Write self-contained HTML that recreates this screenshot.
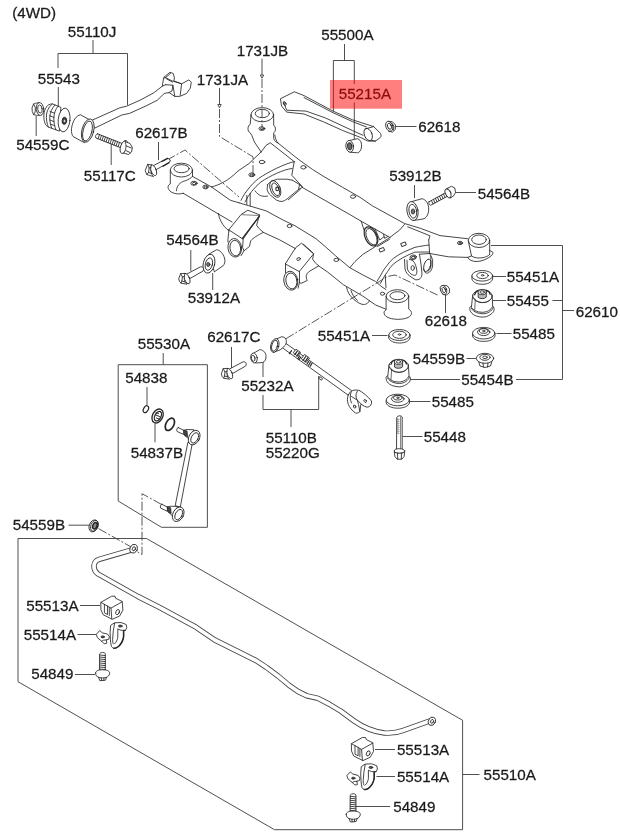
<!DOCTYPE html>
<html><head><meta charset="utf-8">
<style>
html,body{margin:0;padding:0;background:#fff;}
svg{display:block;}
text{font-family:"Liberation Sans",sans-serif;font-size:14.9px;fill:#1a1a1a;stroke:#1a1a1a;stroke-width:0.25px;}
.l{stroke:#3c3c3c;stroke-width:0.9;fill:none;}
.p{stroke:#262626;stroke-width:0.85;fill:#fff;stroke-linejoin:round;stroke-linecap:round;}
.n{stroke:#262626;stroke-width:0.85;fill:none;stroke-linejoin:round;stroke-linecap:round;}
.d{stroke:#444;stroke-width:0.9;fill:none;stroke-dasharray:9 2 2 2;}
</style></head><body>
<svg width="620" height="833" viewBox="0 0 620 833">
<rect width="620" height="833" fill="#fff"/>
<!--LINES-->
<g class="l" id="leaders">
<path d="M93 40V53.500M58 68V53.500H127.500V105"/>
<path d="M58.300 87V107"/>
<path d="M36.200 116V136"/>
<path d="M111.200 144V165"/>
<path d="M158.500 142V160"/>
<path d="M344.500 44V60.500M333.400 111.500V60.500H354.300V84M354.300 102.500V139.200"/>
<path d="M396 126.500H416.500"/>
<path d="M414.500 185V198"/>
<path d="M455 192.500H476"/>
<path d="M491 245.500H562.500V379.500H516M552.500 300.500H562.500M562.500 310.500H574"/>
<path d="M492.500 276.500H506M492.500 300.500H506M496.500 333.500H511.500"/>
<path d="M445.500 294V313"/>
<path d="M372 335.500H387.500"/>
<path d="M466.500 358.500H476"/>
<path d="M410 379.500H460"/>
<path d="M410 401.500H430.500"/>
<path d="M402.500 436.500H422.500"/>
<path d="M190.800 250V271"/>
<path d="M212.700 273V290"/>
<path d="M231.500 347V368.500"/>
<path d="M263 361V377M263 395V409.500H318.700V376M291 409.500V427"/>
<path d="M163.200 353V364.700M118.200 364.700H207.400V527.300H161.500L118.200 501V364.700"/>
<path d="M147 387V405"/>
<path d="M155 423.500V442.400"/>
<path d="M68.500 525.200H89"/>
<path d="M146.500 538.500H18V681.700L274.500 829.700H462.600V720.300Z"/>
<path d="M462.600 774.500H479.500"/>
<path d="M80 605.500H100M77.500 634.500H96.500M75 674.500H95"/>
<path d="M375 749.500H395M376.500 776.500H395M356 806.500H390"/>
<path d="M262 58.700V75M219.500 88V104.500"/>
<path d="M260.300 75H263.700L262 78.200ZM217.800 104.500H221.200L219.500 107.800Z"/>
</g>
<g class="d">
<path d="M262 79V127"/>
<path d="M219.500 109V136.500L253 156.800V174"/>
<path d="M167 160L185 150L239 197"/>
<path d="M286 338.700L387.500 276.500L395 275L437.500 295"/>
<path d="M161.300 504.300L142 493.700V554.500L137 551.500"/>
<path d="M98.700 528.700L131.200 547"/>
</g>
<!-- trailing arm 55110J -->
<g class="p">
<!-- arm body -->
<path d="M91.500 120.500 L119.800 107.800 L126.600 106.200 L140 100.200 L153.500 93 L162.300 86.200 L163.700 77.500 L170 72.200 L173.400 73.600 L174.400 78 L173.900 80.900 L181.600 83.800 L188.900 79.900 L191.300 82.300 L190.300 88.100 L186.500 93.500 L179.700 96.400 L174.800 96.400 L169 92.500 L164.200 93.500 L157.400 100.200 L145.800 106 L129.500 113.400 L121.800 115 L95 128 Z"/>
<path class="n" d="M164.200 77 L172 80.900 L181.600 83.800 L180.200 95.400 M165.700 84.700 L172.900 85.200 L172 91 L169 92.500 M172.900 85.200 L174.800 96.400 M164.900 78.200 L170.600 73.300 M162.300 86.200 L165.700 84.700 M166.500 78.800 L172.500 82.200"/>
<!-- sleeve -->
<path d="M91.800 121.100 L80.500 114.800 C76.500 115.300 72.500 120.500 71.500 128.700 C71.200 132.500 72 135.300 73.200 136.600 L84 142.500 Z"/>
<ellipse cx="87.800" cy="130.600" rx="5.900" ry="11.900" transform="rotate(14 87.800 130.600)"/>
<ellipse class="n" cx="87.500" cy="131" rx="4.400" ry="10.200" transform="rotate(14 87.500 131)"/>
</g>
<!-- bushing 55543 -->
<g class="p">
<path d="M60.500 107.200 L52.300 103.900 C49.500 104 47.500 105.200 46.600 106.700 C44.800 109.500 43.800 112.500 43.800 115.200 C43.800 118.500 44.200 121 44.900 123.100 C45.600 125 46.800 126.300 48.300 127 L59 131 Z"/>
<path class="n" d="M52.300 103.900 C49.500 106 47.500 109.500 46.500 114 C46 118.500 46.800 123.500 48.300 127 M55 105 C52 108 50.300 112 49.800 117 C49.700 121.500 50.500 125.500 51.800 128.200 M58 106.200 C55.500 109 54.200 113 53.800 118 C53.800 122.500 54.600 126.500 56 129.800 M50 111.500 L54.500 113.200 M49.700 115.800 L54 117.400 M49.700 120 L54 121.600 M50.300 124 L54.600 125.600"/>
<ellipse cx="64.100" cy="120" rx="5.900" ry="11.900" transform="rotate(6 64.100 120)"/>
<ellipse cx="64.400" cy="120.800" rx="2.300" ry="3.600" transform="rotate(6 64.400 120.800)" style="fill:#444"/>
<ellipse cx="64.500" cy="121" rx="0.800" ry="1.300" style="fill:#ddd;stroke:none"/>
</g>
<!-- nut 54559C -->
<g class="p">
<path d="M39 102.600 L35.500 103.300 L33.600 104 L32 107.900 L32.300 111.500 L33.600 114.600 L36.500 115.300 L39.500 115.300 Z"/>
<path class="n" d="M33.600 104 L35.300 107.500 L35.200 112 L33.600 114.600"/>
<ellipse cx="40" cy="109" rx="3.700" ry="6.400" transform="rotate(-6 40 109)"/>
<ellipse class="n" cx="39.900" cy="109" rx="2.200" ry="4" transform="rotate(-6 39.900 109)"/>
</g>
<!-- bolt 55117C -->
<g class="p" transform="translate(0 1)">
<path d="M97.500 132.800 L123 142.800 L121.500 147 L96 137 C95 135.500 95.500 133.500 97.500 132.800 Z"/>
<path class="n" d="M99.500 133.600 L98 137.800 M101.500 134.400 L100 138.600 M103.500 135.200 L102 139.400 M105.500 136 L104 140.200 M107.500 136.800 L106 141 M109.500 137.600 L108 141.800 M111.500 138.400 L110 142.600 M113.500 139.200 L112 143.400 M115.500 140 L114 144.200 M117.500 140.800 L116 145 M119.500 141.600 L118 145.800"/>
<ellipse cx="124" cy="146" rx="3.400" ry="6.800" transform="rotate(20 124 146)"/>
<path d="M125 140.500 L130 142.500 L132.400 146.500 L131.500 151 L128.500 153.500 L123.500 152 C126 150 127 144 125 140.500 Z"/>
<path class="n" d="M126.500 145 L131.500 147 M125.800 149.500 L130 151.500"/>
</g>
<!-- bolt 62617B -->
<g class="p">
<path d="M152.900 165.900 L167.700 158.100 L170.300 160 L169.700 162 L156.100 169.700 Z"/>
<path class="n" d="M161.800 161.500 L167.500 158.600 M163 166.200 L169 162.800" style="stroke-width:1.300;stroke-dasharray:1.2 0.8"/>
<ellipse cx="153.500" cy="170.200" rx="2.600" ry="5.700" transform="rotate(-22 153.500 170.200)"/>
<path d="M151.300 165 L147.700 164.300 L145.200 170.700 L146.800 174.500 L149.700 175.500 L153.500 176.500 C150.800 174.500 149.800 168.500 151.300 165 Z"/>
<path class="n" d="M147.700 164.300 L149.200 168 L148.500 172.500 L146.800 174.500 M149.200 168 L151 167.300 M148.500 172.500 L151.300 173.300"/>
</g>
<!-- SUBFRAME -->
<g class="n">
<!-- boss A front-left -->
<ellipse cx="181.400" cy="170.100" rx="11.100" ry="6.900"/>
<ellipse cx="181.600" cy="168.700" rx="7.600" ry="4"/>
<path d="M170.300 170.500 L170.300 184 C167.500 185 166.800 189 171.300 192.100 C175 194.300 180 194.300 183.300 193.300"/>
<path d="M192.500 170.500 L192.500 176.400"/>
<path d="M176.400 190.800 C176.500 186 180 182 185.200 180.800 C188 180 191 178 192.500 176.400"/>
<!-- front rail left -->
<path d="M192.500 176.400 L211.600 187"/>
<path d="M211.600 187 C220 184.500 228 181 238 171 L249 163.500 L261 152"/>
<path d="M211.600 187 L230.400 200.300 L239 202.800"/>
<path d="M183.300 193.300 L232 222"/>
<ellipse cx="194" cy="183.300" rx="3.200" ry="2"/>
<ellipse cx="194.200" cy="183.500" rx="1.800" ry="1.100"/>
<ellipse cx="205.500" cy="187" rx="2.700" ry="1.900"/>
<ellipse cx="205.600" cy="187.100" rx="1.400" ry="1"/>
<!-- boss B rear-left -->
<ellipse cx="262.300" cy="114.700" rx="11.300" ry="7.100"/>
<ellipse cx="262.300" cy="113.500" rx="7.100" ry="4.200"/>
<path d="M251 114.700 L250.200 124.400 C247.500 125.500 247 131.500 250.200 132.800 L251.800 135.300 L254.400 142 L261.100 152"/>
<path d="M273.600 114.700 L273.700 125.200 C276 127 276 131.500 273.700 132.800 L273.700 138.600 C274.500 141 276 142.500 278 143"/>
<path d="M261.100 152 L266.100 145.300 L270.300 142.800 L294.200 161.600"/>
<ellipse cx="261.900" cy="128.600" rx="3" ry="1.800"/>
<ellipse cx="262" cy="128.800" rx="1.600" ry="0.900"/>
<ellipse cx="262" cy="162" rx="2.800" ry="1.700"/>
<ellipse cx="251.800" cy="174.800" rx="3" ry="1.900"/>
<ellipse cx="251.900" cy="175" rx="1.600" ry="1"/>
<!-- rear rail -->
<path d="M274.800 135 C275.500 139 276.500 141.500 278 143 L294.200 156 L300 160.500 L312.600 169.500 L324.200 176.800 L342.600 187.300 L360 197.300 L372.300 205.800 L404.500 223.500 L420.600 228.400 L440 235.600 L467.500 238.700"/>
<path d="M302.300 187.400 L350.600 215 L361 221.100"/>
<ellipse cx="303.400" cy="167.300" rx="2.600" ry="1.700"/>
<ellipse cx="353" cy="196.600" rx="2.600" ry="1.700"/>
<!-- left side member arcs -->
<path d="M294.200 161.600 C285 163.500 268 172 258.600 178.500 C251 184.500 244.500 193 241 200.300"/>
<path d="M292 168.500 C283 169.500 270 176 261 181.900 C254 187.500 248.500 195 245 202"/>
<path d="M294.200 161.600 L291.800 175.300 L302.300 186.600"/>
<path d="M246.800 195.300 L246.800 204.500 M250.200 193.500 L250.200 205.800"/>
<!-- bushing under left side member -->
<path d="M267.600 184.500 L271.500 181.100 L277.300 179.200 L287 179.200 L292.300 180.200"/>
<path d="M267.600 184.500 L267.100 189.400 C267.800 192 269 194 270.500 195.200 L276.300 200 C278 201 280 201.500 282.100 201.500 C284 201 285.500 200.200 287 199 L298.600 189.400 L302.400 187.400 L299.500 184.500 L292.300 180.200"/>
<path d="M288.300 199.800 L300.300 189.300 M298.600 189.400 L299.500 184.500"/>
<ellipse cx="275.300" cy="188.900" rx="4.900" ry="8.800" transform="rotate(-22 275.300 188.900)"/>
<ellipse cx="275.700" cy="189.300" rx="3.300" ry="6.700" transform="rotate(-22 275.700 189.300)"/>
<ellipse cx="277.200" cy="188.900" rx="1.400" ry="1.800" style="stroke-width:1.100"/>
<path d="M255 190.800 C257 193.500 259 195 260.800 195.700 C263 196.500 265.500 196.500 267.600 196.100"/>
<!-- front rail mid (P and Q) -->
<path d="M239 202.800 L248.400 205.600 L266 210.800 L283 220 L295 225.800 L316 238.700 L325.500 246.800 L335.300 255.600 L349.800 267.700 L362 274.500 L375.600 281.500 L382 287 L386 289.500"/>
<path d="M263.400 232.400 L279.500 239.800 L295.600 248.700"/>
<ellipse cx="289.500" cy="226" rx="2.400" ry="1.600"/>
<ellipse cx="336.300" cy="259.900" rx="2.400" ry="1.600"/>
<!-- bracket 1 -->
<path d="M229 229.500 L241.100 214.500 L247.900 210.200 L260 215 L243.200 238.800 Z"/>
<path d="M242 214.700 L258.500 215.500" style="stroke-width:0.600"/>
<path d="M259.200 216.500 L242.500 238.300" style="stroke-width:1.300"/>
<path d="M229 229.500 L227.900 239.800 L228 242"/>
<ellipse cx="234.800" cy="247.800" rx="6.800" ry="9.300" transform="rotate(-8 234.800 247.800)"/>
<ellipse cx="235.300" cy="248.100" rx="5.300" ry="7.800" transform="rotate(-8 235.300 248.100)"/>
<path d="M259.400 215.600 L256.600 225.200 L258.600 228.100 L263.400 232.400 C258 235 253 238 250.800 240.700 L249.400 246.500 L244 250.800 L242.600 247.400 L243.200 238.800 M244 250.800 L241.100 255.600"/>
<path d="M218.400 213.400 C219 218 222 226 229 230.800"/>
<!-- bracket 2 -->
<path d="M285.500 263.600 L295.700 247.600 L301.500 243.200 L313.600 253.900 L299.500 271.300 Z"/>
<path d="M303.400 244.200 L313 252.900"/>
<path d="M285.500 263.600 L285.500 272.800"/>
<ellipse cx="290.800" cy="280.700" rx="7" ry="9.500" transform="rotate(-10 290.800 280.700)"/>
<ellipse cx="291.400" cy="280.900" rx="5.500" ry="8" transform="rotate(-10 291.400 280.900)"/>
<path d="M299.500 271.300 L299.500 282.400 L301 283.400 L307.300 280.500 C306.500 279 306 277.500 306.300 275.700 C306.800 274 307.500 272.800 308.700 271.800 L318.400 266 M313.600 253.900 L312.600 259.200 L315.500 263.100 L318.400 265.500 M299.500 282.400 L298 288.200"/>
<ellipse cx="298.600" cy="259" rx="1.900" ry="1.300" transform="rotate(-20 298.600 259)"/>
<!-- front rail right -->
<path d="M318.400 265.700 L327.300 271.800 L343.400 284.700 L362.700 296 L375.600 305 L385.500 309"/>
<path d="M346.600 287.500 C347.500 292 349.500 295 351.500 297 C354.500 300.500 358 303 362 304.300 C365.500 305 368.500 303.500 369.500 300.500"/>
<path d="M351 290.500 C352 294 354 297.500 357.500 300.500"/>
<ellipse cx="382.500" cy="293.700" rx="2.200" ry="1.500"/>
<!-- right side member -->
<path d="M404.500 224.400 L399.700 230 L388.400 238.500 L375.500 246.500 L362.700 254.500 L355 261.500 L349.800 267.700"/>
<path d="M429 245 C424 245.700 420 246.300 415 247.300 L403.700 252.100 C400 254 396.500 256 393.200 258.500 C390.700 260.700 388.600 263 386.800 265.800 C384.500 268.500 382.500 271.700 381.100 274.700 L377.100 281.100"/>
<path d="M429.500 252 L415 252.100 C411 253.500 407 255.500 402.900 257.700 C399.500 259.700 396 261.800 393.200 264.200 C391 266.500 389 269 387.600 271.500 L384.400 276.300 L380.300 283.500"/>
<path d="M385.200 275.500 L386 287.600"/>
<path d="M428.700 240 L429.700 253.500"/>
<!-- hanging bracket -->
<path d="M404.500 259.400 L405 269 C406 272.500 407.500 274.500 409.400 275.800 L415.200 279.700 C417.500 280 419.200 279.500 420 278.700 C421.500 277 422 275.500 422 273.900 L421 264.200 L419.500 254.500"/>
<path d="M407 260.300 L407.400 269 C408.500 272 410.500 274 412.300 274.800 C414 275.500 415.500 275.500 416.100 274.800 C417 273 417 271 416.600 269 C416 266 415.200 264 414.200 262.300 C413 260.500 411 259.500 409.400 259.400"/>
<ellipse cx="412.700" cy="268" rx="1.700" ry="2.400"/>
<ellipse cx="413.200" cy="257.400" rx="3.300" ry="2.300" transform="rotate(-15 413.200 257.400)"/>
<ellipse cx="413.300" cy="257.500" rx="1.900" ry="1.200" transform="rotate(-15 413.300 257.500)"/>
<path d="M429.700 253.500 L432.600 259.400 L432.600 266.100 C432 269 431 271 429.700 272 C428.500 273 427 273.300 425.800 273 C424.500 272 423.800 270.500 423.400 269"/>
<ellipse cx="427.300" cy="265.300" rx="3.200" ry="6.400" transform="rotate(18 427.300 265.300)"/>
<path d="M430.800 256 L431 266 C430.500 268.500 429.500 270.500 428 271.300"/>

<path d="M407.700 226.800 L430 235.800 L428.700 240"/>
<rect x="401.500" y="242.600" width="4.400" height="3.200" transform="rotate(-20 403.700 244.200)"/>
<rect x="379.800" y="248.100" width="4.400" height="3.200" transform="rotate(-20 382 249.700)"/>
<ellipse cx="460" cy="243" rx="2.600" ry="1.700"/>
<ellipse cx="460.100" cy="243.200" rx="1.300" ry="0.800"/>
<!-- bushing mount under rear rail -->
<path d="M361.300 221.500 L364.100 230.300 M361 221.100 L390.300 237.700"/>
<ellipse cx="371" cy="236.400" rx="5.900" ry="10.200" transform="rotate(-25 371 236.400)" style="stroke-width:1.200"/>
<ellipse cx="371.500" cy="236.700" rx="4.700" ry="8.800" transform="rotate(-25 371.500 236.700)"/>
<path d="M375 228.700 L379.800 240 L383.900 236.800 M383.500 234.400 L384.700 238.400 L387.900 236.400 M377.500 246.500 L389.500 239.300"/>
<!-- rear rail to boss D lower edge -->
<path d="M419.500 254.200 L429.800 253.500 L448.400 256.800 L467.700 257.400"/>
<!-- boss D -->
<ellipse cx="479" cy="240.400" rx="10.700" ry="7.100"/>
<ellipse cx="479" cy="239.700" rx="7.300" ry="4.700"/>
<path d="M468.300 240.800 L471.500 256 L467.700 257.300 C469 260 472 261.300 476 261.500 C481 261.500 487 259.500 491.900 255.200 C493 254 493.100 252.600 492.500 251.900 L489.700 250.500 M489.700 240.800 L489.700 254.500"/>
<path d="M471.500 256 C474 258 478.500 258.300 482 257.800 C485.500 257.300 488.500 256 489.700 254.500"/>
<!-- boss C -->
<ellipse cx="397.400" cy="296.200" rx="11.300" ry="6.500"/>
<ellipse cx="397.500" cy="295.700" rx="7.500" ry="4"/>
<path d="M386.100 296.200 L386.100 310 C383 311 383.500 315 387 317 C392 320 403 320 408 317.500 C412 315.500 413 312 408.700 309 L408.700 296.200"/>
</g>
<!-- upper arm 55215A -->
<g class="n">
<path d="M280.800 98.500 L294.400 91.800 L304 95.600 L333 111.100 L352.400 119.800 L373.700 126.600 L380.500 133.400 C381.500 135.500 381 137 380.500 137.300 L375.600 141.100 L367.900 141.100 L360.200 137.300 L342.700 130.500 L323.400 121.800 L304 114 L286.600 112.100 L281.800 106.300 Z"/>
<path d="M283.700 102 L286.600 110.200 L306 111.100 L325.300 117.900 L352.400 130.500 L363 135.300"/>
<path d="M304 97.600 L333 112.700 L352.400 121.600 L366.500 127"/>
<ellipse cx="284.700" cy="103.600" rx="1.200" ry="2" transform="rotate(-25 284.700 103.600)"/>
<ellipse cx="368.200" cy="134.500" rx="3.800" ry="6.400" transform="rotate(-22 368.200 134.500)"/>
<path d="M365 129 L373.700 126.600 M371 140.300 L375.600 141.100"/>
</g>
<!-- small bushing under arm -->
<g class="p">
<path d="M349.500 140.500 L357.500 138.700 C360.500 139.500 362 143 361.500 147 C361 150.500 359.500 152.500 357.500 152.800 L350 152.200 Z"/>
<ellipse cx="349.700" cy="146.300" rx="3.800" ry="5.900" transform="rotate(-8 349.700 146.300)"/>
<ellipse cx="349.700" cy="146.300" rx="2.300" ry="3.700" transform="rotate(-8 349.700 146.300)" style="fill:#666"/>
</g>
<!-- nut 62618 (top) -->
<g class="p">
<path d="M388.500 121.300 L392.500 121.800 L395.500 125 L395.300 129.500 L392.500 132 L389 131.500 Z"/>
<ellipse cx="389.300" cy="126.300" rx="3.400" ry="5.200" transform="rotate(-20 389.300 126.300)"/>
<ellipse class="n" cx="389.500" cy="126.300" rx="1.900" ry="3.100" transform="rotate(-20 389.500 126.300)"/>
<path class="n" d="M391.500 123 L394 126 L393.500 130"/>
</g>
<!-- nut 62618 (second) -->
<g class="p">
<path d="M443.500 285.300 L447.300 285.800 L449.500 289 L449.300 293 L446.500 295 L443.500 294.600 Z"/>
<ellipse cx="443.600" cy="290" rx="3" ry="4.700" transform="rotate(-20 443.600 290)"/>
<ellipse class="n" cx="443.800" cy="290" rx="1.600" ry="2.700" transform="rotate(-20 443.800 290)"/>
</g>
<!-- bushing 53912B -->
<g class="p">
<path d="M412 201.500 L422 198.700 C426 199.500 429 204 428.700 210 C428.300 215 426 218.500 423 219 L413.500 220.500 Z"/>
<ellipse cx="412.500" cy="211" rx="5.500" ry="9.600" transform="rotate(-10 412.500 211)"/>
<ellipse class="n" cx="412.800" cy="211.200" rx="3.800" ry="7" transform="rotate(-10 412.800 211.200)"/>
<ellipse cx="413" cy="211.500" rx="1.700" ry="2.600" style="fill:#777"/>
</g>
<!-- bolt 54564B right -->
<g class="p" transform="translate(0 -1)">
<path d="M429 202.800 L447 193 L448.700 196.600 L430.500 206.300 C429 205.800 428.500 204.300 429 202.800 Z"/>
<path class="n" d="M431.500 201.600 L433 205 M433.500 200.500 L435 203.900 M435.500 199.400 L437 202.800 M437.500 198.300 L439 201.700 M439.500 197.200 L441 200.600 M441.500 196.100 L443 199.500 M443.500 195 L445 198.400 M445.500 193.900 L447 197.300"/>
<ellipse cx="448.300" cy="194.500" rx="2.600" ry="5" transform="rotate(-28 448.300 194.500)"/>
<path d="M447 189.500 L451.500 187.300 L454.800 189 L455.500 193.500 L453.500 197 L450 199 C452 196 451.500 191 447 189.500 Z"/>
</g>
<!-- bushing 53912A -->
<g class="p">
<path d="M208.900 254.200 L216.600 249.700 C220 250 223 253.500 224.500 258 C225.500 261.500 224.500 264.500 223 265.800 L214.700 271.600 Z"/>
<ellipse cx="209" cy="263.700" rx="5.700" ry="9.600" transform="rotate(14 209 263.700)"/>
<ellipse class="n" cx="208.900" cy="264.100" rx="3.500" ry="6.300" transform="rotate(14 208.900 264.100)"/>
<ellipse cx="208.300" cy="264.500" rx="1.600" ry="2" style="fill:#777"/>
</g>
<!-- bolt 54564B left -->
<g class="p" transform="translate(-42.600 -95)">
<path d="M229.500 369 L243.100 361.800 C244.800 361.500 246 362.500 246.200 363.700 C246.400 364.800 246.100 365.600 245.500 366.100 L231.900 373.900 Z"/>
<ellipse cx="229.600" cy="373.600" rx="2.500" ry="5.500" transform="rotate(-22 229.600 373.600)"/>
<path d="M227.600 368.400 L223.200 368.600 L221.300 373.900 L222.300 376.800 L223.700 378.200 L229.500 379.200 C226.800 377.500 226 371.800 227.600 368.400 Z"/>
<path class="n" d="M223.200 368.600 L225 372 L224.500 376 L223.700 378.200 M225 372 L227 371.200 M224.500 376 L227.300 376.800"/>
</g>
<!-- washer 55451A right -->
<g class="p">
<path d="M471.900 276 L471.900 279 C473 282.500 477 284.300 482.300 284.300 C487.500 284.300 491.500 282.500 492.600 279 L492.600 276 Z"/>
<ellipse cx="482.300" cy="275.800" rx="10.400" ry="5.300"/>
<ellipse class="n" cx="482.500" cy="275.500" rx="5.800" ry="3.100"/>
<ellipse class="n" cx="482.600" cy="275.300" rx="1.200" ry="0.700"/>
</g>
<use href="#bush54" x="83.700" y="-69.700"/>
<!-- washer 55485 right -->
<g class="p">
<path d="M472.500 333.500 L472.500 336 C473.500 339.500 478 341.400 483.700 341.400 C489.500 341.400 494 339.500 495 336 L495 333.500 Z"/>
<ellipse cx="483.700" cy="333.200" rx="11.200" ry="5.800"/>
<ellipse class="n" cx="483.700" cy="332" rx="6.200" ry="3.600"/>
<ellipse class="n" cx="483.700" cy="331" rx="4.300" ry="2.300"/>
<ellipse class="n" cx="483.700" cy="331" rx="1.200" ry="0.700"/>
</g>
<!-- washer 55451A left -->
<g class="p">
<path d="M388.700 335.300 L388.700 338 C390 341.200 394 343 399.500 343 C405 343 409 341.200 410 338 L410 335.300 Z"/>
<ellipse cx="399.400" cy="335" rx="10.600" ry="5.500"/>
<ellipse class="n" cx="399.500" cy="334.800" rx="6.800" ry="3.600"/>
<ellipse class="n" cx="399.500" cy="334.500" rx="1.300" ry="0.700"/>
</g>
<!-- nut 54559B right -->
<g class="p">
<path d="M478.500 361 L480 366 L485 367.500 L490.500 366 L492 361 Z"/>
<ellipse cx="485" cy="358.300" rx="8.700" ry="5"/>
<ellipse class="n" cx="485" cy="357.300" rx="5.200" ry="3"/>
<ellipse class="n" cx="485" cy="357.300" rx="2.300" ry="1.300"/>
<path class="n" d="M483 363 L483.500 367 M488 363 L487.500 367"/>
</g>
<!-- bushing 55454B -->
<g id="bush54" class="p">
<path d="M387.700 375.800 C386 376.300 385.800 377.500 386.100 378.500 C386.300 380 386.600 381 387.100 381.600 C388.500 383.800 390.500 385 392.900 385.800 C395 386.500 397 386.800 399.400 386.800 C402 386.700 404 386 405.800 384.800 C408 383.500 409.500 382.200 410 381 C410.500 379.800 410.600 378.600 410.300 377.700 C410 376.800 409.500 376.200 409 375.800 Z"/>
<path class="n" d="M387.500 378 C389 380.200 391 381.600 392.900 382.300 C395 383.100 397 383.500 399.400 383.500 C402 383.400 404 382.700 405.800 381.600 C407.500 380.500 408.800 379 409.300 377.500"/>
<path d="M389 364.800 L387.700 377.100 C389.500 380 393.500 382 398.500 382 C403.500 382 407.500 379.500 409 375.800 L408.400 364.800 Z"/>
<ellipse cx="398.700" cy="365.800" rx="9.700" ry="6.500"/>
<path class="n" d="M391.600 369.400 L391 379.500 M390 367.500 C392 370.500 395 372.300 399.400 372.300 C403 372.300 406 370.800 407.500 368.500" style="stroke-width:0.700"/>
<path d="M394.500 362.300 L394.500 367 C396 368.800 401 368.800 402.600 366.800 L402.600 361.600 Z" style="fill:#bbb"/>
<ellipse cx="398.500" cy="361.900" rx="4.100" ry="2.500" style="fill:#fff"/>
<ellipse class="n" cx="398.500" cy="361.800" rx="2.200" ry="1.300"/>
<path class="n" d="M391 364.500 C391.500 362 393 360.800 394.500 360.300 M402.600 360 C404.500 360.500 406 361.800 406.500 364" style="stroke-width:1.200"/>
</g>
<!-- washer 55485 lower -->
<g class="p">
<path d="M386.200 400.500 L386.200 403 C387.500 406.300 392 408.200 397.800 408.200 C403.500 408.200 408.300 406.300 409.500 403 L409.500 400.500 Z"/>
<ellipse cx="397.800" cy="400" rx="11.600" ry="5.800"/>
<ellipse class="n" cx="397.800" cy="398.800" rx="6.300" ry="3.500"/>
<ellipse class="n" cx="397.800" cy="397.800" rx="4.300" ry="2.200"/>
<ellipse class="n" cx="397.800" cy="397.800" rx="1.200" ry="0.700"/>
</g>
<!-- bolt 55448 -->
<g class="p">
<path d="M396.900 417 C397.500 415.300 401.600 415.300 402.200 417 L402.200 450 L396.900 450 Z"/>
<path class="n" d="M396.900 419 L399 419.300 M396.900 421 L399 421.300 M396.900 423 L399 423.300 M396.900 425 L399 425.300 M396.900 427 L399 427.300 M396.900 429 L399 429.300 M396.900 431 L399 431.300 M396.900 433 L399 433.300 M400.600 417 L400.600 449.500" style="stroke-width:0.600"/>
<ellipse cx="399.500" cy="451" rx="5.300" ry="2.300"/>
<path d="M394.400 452.200 L394.900 456.500 L397.200 459.200 L401.800 459.200 L404.100 456.500 L404.600 452.200 C402 453.700 397 453.700 394.400 452.200 Z"/>
<path class="n" d="M397.500 453.400 L397.700 459 M401.500 453.400 L401.300 459"/>
</g>
<!-- lower arm 55110B -->
<g class="p">
<path d="M285.600 343.200 L351.600 390.700 L348.400 395.300 L282.400 347.800 Z"/>
<!-- sleeve -->
<path d="M276.500 338.900 L281.900 336.700 C284.500 337 286.300 338.500 286.300 340.600 C286.500 342.500 286 344 285.400 345.100 L282.700 347.700 L280.100 349.900 L273.900 352.200 Z"/>
<ellipse cx="274.800" cy="345.500" rx="4" ry="7" transform="rotate(15 274.800 345.500)"/>
<ellipse class="n" cx="274.600" cy="345.700" rx="2.800" ry="5.600" transform="rotate(15 274.600 345.700)"/>
<!-- adjuster -->
<path d="M293.500 352.500 L296 349.200 L300.500 352.300 L298 356 Z M301.500 358.500 L304.500 354.500 L309.500 358 L306.500 362 Z" style="fill:#fff"/>
<path class="n" d="M291.600 350.600 L289.400 353.700 M294.800 354.700 L297.300 351.200 M296.800 356 L299.200 352.500 M299.500 356 L297.800 358.700 M300.800 357 L299 359.700 M303 360.500 L305.800 356.500 M305 361.800 L307.800 357.800 M308.800 361.200 L307 364 M310.400 362.300 L308.600 365.200 M312 363.400 L310.200 366.300" style="stroke-width:1.200"/>
<path class="n" d="M320 376.800 L322.600 378.600 L321.500 380.200 L318.900 378.400 Z"/>
<!-- clevis -->
<path d="M348.400 394.800 C349.500 392 352 390.300 355 390 L359 390.300 C363 392.500 368 396.500 371.500 401 C372 404 370.500 406.500 367.900 407.200 C365.500 407 363 405.800 361.700 404.500 L360.800 404.500 L359.900 411.600 C358.500 413 357 413.400 355.500 413 C352 410.500 349.500 407.500 348.400 404.500 C347 401 347 397.500 348.400 394.800 Z"/>
<path class="n" d="M357.300 391.200 C355.500 394 355.500 397.500 357.300 400.100 L361.700 404.500 M351 392.500 C349.800 396 350 400 351.500 403 M351.500 396.500 L357.300 400.100 L358.500 404.500 L359.900 411.600"/>
<ellipse class="n" cx="365.200" cy="401" rx="1.100" ry="1.600" transform="rotate(-30 365.200 401)"/>
<ellipse class="n" cx="354.600" cy="406.600" rx="1.100" ry="1.600" transform="rotate(-30 354.600 406.600)"/>
</g>
<!-- bushing 55232A -->
<g class="p" transform="translate(0 1)">
<path d="M254 352 L259.500 348.700 C262.500 348.500 265.500 351 266 354.500 C266.300 358 265 361 262.500 361.500 L256 362 Z"/>
<ellipse cx="254" cy="357" rx="3.200" ry="5" transform="rotate(-10 254 357)"/>
<ellipse class="n" cx="253.200" cy="357.300" rx="1.800" ry="3" transform="rotate(-10 253.200 357.300)"/>
</g>
<!-- bolt 62617C -->
<g class="p">
<path d="M229.500 369 L243.100 361.800 C244.800 361.500 246 362.500 246.200 363.700 C246.400 364.800 246.100 365.600 245.500 366.100 L231.900 373.900 Z"/>
<ellipse cx="229.600" cy="373.600" rx="2.500" ry="5.500" transform="rotate(-22 229.600 373.600)"/>
<path d="M227.600 368.400 L223.200 368.600 L221.300 373.900 L222.300 376.800 L223.700 378.200 L229.500 379.200 C226.800 377.500 226 371.800 227.600 368.400 Z"/>
<path class="n" d="M223.200 368.600 L225 372 L224.500 376 L223.700 378.200 M225 372 L227 371.200 M224.500 376 L227.300 376.800"/>
</g>
<!-- stabilizer link group -->
<g class="n">
<ellipse cx="145.900" cy="409.200" rx="2.300" ry="3.700" transform="rotate(28 145.900 409.200)" style="stroke-width:1.200"/>
<ellipse cx="157.600" cy="416" rx="5.100" ry="7.400" transform="rotate(28 157.600 416)" style="stroke-width:1.300"/>
<ellipse cx="157.900" cy="416.200" rx="3" ry="5.100" transform="rotate(28 157.900 416.200)" style="stroke-width:1.300"/>
<path d="M156 412.500 L158.500 413.500 M155.800 415 L159.500 416.500 M156.500 418 L159.800 419.300" style="stroke-width:1"/>
<ellipse cx="169.900" cy="424.300" rx="3.900" ry="6.600" transform="rotate(28 169.900 424.300)" style="stroke-width:1.700"/>
</g>
<g class="p">
<!-- rod -->
<path d="M187.800 442.700 L175.200 505.700 L180.300 507 L192.200 443.900 Z"/>
<!-- upper stud -->
<path d="M178.200 427.600 L184.800 430.800 L183.400 434.400 L177.200 431.500 C176.200 430 176.700 428.100 178.200 427.600 Z"/>
<path d="M184 430.300 L187 429.500 L194 429.800 L190 440 L184.800 435.500 Z"/>
<path d="M184 430.200 L187 431 L187.500 436.800 L184.600 435.300 Z" style="fill:#444"/>
<ellipse cx="194.200" cy="437.600" rx="5.300" ry="7.700" transform="rotate(28 194.200 437.600)"/>
<ellipse class="n" cx="194.700" cy="437.900" rx="3.300" ry="5.600" transform="rotate(28 194.700 437.900)"/>
<!-- lower stud -->
<path d="M161.800 504.300 L168.400 507.500 L167 511.100 L160.800 508.200 C159.800 506.700 160.300 504.800 161.800 504.300 Z"/>
<path d="M167.600 507 L170.600 506.200 L177.600 506.500 L173.600 516.700 L168.400 512.200 Z"/>
<path d="M167.600 506.900 L170.600 507.700 L171.100 513.500 L168.200 512 Z" style="fill:#444"/>
<ellipse cx="178.200" cy="514.300" rx="5.300" ry="7.700" transform="rotate(28 178.200 514.300)"/>
<ellipse class="n" cx="178.700" cy="514.600" rx="3.300" ry="5.600" transform="rotate(28 178.700 514.600)"/>
</g>
<!-- nut 54559B left -->
<g class="p">
<ellipse cx="93.600" cy="525.900" rx="4.300" ry="6.200" transform="rotate(22 93.600 525.900)"/>
<ellipse class="n" cx="94.400" cy="525.800" rx="3.500" ry="5.600" transform="rotate(22 94.400 525.800)"/>
<ellipse cx="94.900" cy="525.800" rx="2.100" ry="3.300" transform="rotate(22 94.900 525.800)" style="stroke-width:1.500;fill:#888"/>
</g>
<!-- stabilizer bar -->
<g fill="none" stroke-linejoin="round" stroke-linecap="round">
<path id="barp" d="M132 549.800 L99.300 559.300 C96 560.300 94.300 562.500 94 565.500 C93.800 569 95 572 98 574 L138 596.500 L160 607.700 L185.800 621.600 L196 627.200 L205.200 633.500 L214.800 640 L243.900 654.500 L256 660.500 L266.500 667.400 L278 676 L289 685.200 L298 691.500 L306.800 695.800 L318 698.300 L329 704 L340.600 711 L354.200 721 C362 726.500 372 731.500 384.400 733 C392 733.500 398 732.500 403 730.500 L429.600 721" stroke="#444" stroke-width="5.400"/>
<path d="M132 549.800 L99.300 559.300 C96 560.300 94.300 562.500 94 565.500 C93.800 569 95 572 98 574 L138 596.500 L160 607.700 L185.800 621.600 L196 627.200 L205.200 633.500 L214.800 640 L243.900 654.500 L256 660.500 L266.500 667.400 L278 676 L289 685.200 L298 691.500 L306.800 695.800 L318 698.300 L329 704 L340.600 711 L354.200 721 C362 726.500 372 731.500 384.400 733 C392 733.500 398 732.500 403 730.500 L429.600 721" stroke="#fff" stroke-width="3.700"/>
</g>
<g class="p">
<ellipse cx="133.700" cy="548.700" rx="3.600" ry="4.500" transform="rotate(25 133.700 548.700)"/>
<ellipse class="n" cx="133.900" cy="548.800" rx="1.500" ry="2.100" transform="rotate(25 133.900 548.800)"/>
<ellipse cx="431.900" cy="721.300" rx="3.400" ry="4.300" transform="rotate(25 431.900 721.300)"/>
<ellipse class="n" cx="432.100" cy="721.400" rx="1.400" ry="2" transform="rotate(25 432.100 721.400)"/>
</g>
<!-- bushing/bracket/bolt set (left), reused on right -->
<g id="bset">
<g class="p">
<!-- 55513A -->
<path d="M101.100 602.200 L111.700 596.200 L115 596.200 L115.600 598.200 L122.200 601.500 L122.900 610.100 L119.600 616 L112.300 619.300 L103.100 614.700 L101.100 610.100 Z"/>
<path class="n" d="M101.100 602.500 L111 608.100 L122.200 601.800 M111 608.100 L111.800 619 M104.400 604.300 L104.400 612.800 L107.500 614.500 L107.500 606 M109.300 607.500 L109.300 615.500"/>
<ellipse class="n" cx="117.600" cy="612.100" rx="1.700" ry="2.700" transform="rotate(25 117.600 612.100)"/>
<!-- 55514A -->
<path d="M96.500 634.100 L99.700 630.600 L102.300 632.800 L107.500 634.100 L109.400 636.700 L108.800 639.300 L106.200 639.900 L106.800 643.200 L104.300 643.800 L101.700 641.200 L97.800 638 Z"/>
<ellipse cx="102.700" cy="636.900" rx="1.700" ry="1" style="fill:#555"/>
<path class="n" d="M101.700 641.200 L103.500 640.200 L106.200 639.900"/>
<path d="M111 625.100 L114.600 622.800 L121 622.500 L126.200 624.500 L126.800 627.700 L125.500 630.300 L123.600 630.900 L123.600 636.700 C123.300 639 122.600 641 121.700 642.500 C120.500 644.500 119.200 646 117.800 647 C116.500 648 115 648.400 113.900 648.300 C112.800 648 112 647.400 111.400 646.400 C110.800 644 110.500 641.500 110.400 639.300 L110.100 632.800 Z"/>
<path class="n" d="M114.600 623.200 L113.300 630.900 L112.600 639.300 C112.600 641.500 112.800 643 113.300 643.800 M117.800 629.600 L117.800 637.400 C117.300 640 116.300 642.300 114.600 643.800 M117.800 629 L121 630.300 L125.500 630.300"/>
<path class="n" d="M123.600 631 L123.600 636.700 C123.300 639 122.600 641 121.700 642.500 C120.500 644.500 119.200 646 117.800 647 C116.500 648 115 648.400 113.900 648.300" style="stroke-width:1.500"/>
<ellipse cx="120.300" cy="626.100" rx="1.900" ry="1" style="fill:#555"/>
<!-- 54849 bolt -->
<path d="M99.800 653.500 C100.500 652 104.500 652 105.300 653.500 L105.300 671 L99.800 671 Z"/>
<path class="n" d="M99.800 655 L105.300 655.600 M99.800 657 L105.300 657.600 M99.800 659 L105.300 659.600 M99.800 661 L105.300 661.600 M99.800 663 L105.300 663.600 M99.800 665 L105.300 665.600 M99.800 667 L105.300 667.600 M99.800 669 L105.300 669.600"/>
<path d="M95.600 673 C95.600 670.500 99 669.800 102.600 669.800 C106.500 669.800 109.700 670.800 109.700 673 C109.700 675.500 107.500 677 106.500 677.300 L105.500 680.200 L99.800 680.700 L98.500 677.300 C97 677 95.600 675.500 95.600 673 Z"/>
<path class="n" d="M98.500 677.300 C101 678.300 104.500 678.200 106.500 677.300 M101.300 678 L101.600 680.500 M104 678 L103.800 680.400"/>
</g>
</g>
<use href="#bset" x="250.600" y="141.300"/>
<!--TEXT-->
<g id="labels" style="opacity:0.999">
<text transform="translate(12.20 17.75) scale(1.02 1)">(4WD)</text>
<text transform="translate(67.70 37.25) scale(1.02 1)">55110J</text>
<text transform="translate(37.70 83.75) scale(1.02 1)">55543</text>
<text transform="translate(16.20 150.25) scale(1.02 1)">54559C</text>
<text transform="translate(83.70 180.75) scale(1.02 1)">55117C</text>
<text transform="translate(135.20 138.25) scale(1.02 1)">62617B</text>
<text transform="translate(196.70 84.75) scale(1.02 1)">1731JA</text>
<text transform="translate(236.70 55.75) scale(1.02 1)">1731JB</text>
<text transform="translate(166.20 245.35) scale(1.02 1)">54564B</text>
<text transform="translate(187.70 303.35) scale(1.02 1)">53912A</text>
<text transform="translate(137.70 348.75) scale(1.02 1)">55530A</text>
<text transform="translate(207.20 342.25) scale(1.02 1)">62617C</text>
<text transform="translate(125.20 382.75) scale(1.02 1)">54838</text>
<text transform="translate(241.20 390.95) scale(1.02 1)">55232A</text>
<text transform="translate(321.20 40.25) scale(1.02 1)">55500A</text>
<text transform="translate(338.70 98.75) scale(1.02 1)">55215A</text>
<text transform="translate(418.20 131.75) scale(1.02 1)">62618</text>
<text transform="translate(389.20 181.35) scale(1.02 1)">53912B</text>
<text transform="translate(477.70 198.75) scale(1.02 1)">54564B</text>
<text transform="translate(506.70 282.25) scale(1.02 1)">55451A</text>
<text transform="translate(506.70 306.25) scale(1.02 1)">55455</text>
<text transform="translate(575.70 317.25) scale(1.02 1)">62610</text>
<text transform="translate(512.70 339.25) scale(1.02 1)">55485</text>
<text transform="translate(424.70 326.25) scale(1.02 1)">62618</text>
<text transform="translate(317.70 340.75) scale(1.02 1)">55451A</text>
<text transform="translate(412.70 364.25) scale(1.02 1)">54559B</text>
<text transform="translate(461.20 385.25) scale(1.02 1)">55454B</text>
<text transform="translate(431.70 406.75) scale(1.02 1)">55485</text>
<text transform="translate(423.70 441.75) scale(1.02 1)">55448</text>
<text transform="translate(130.70 457.75) scale(1.02 1)">54837B</text>
<text transform="translate(12.70 530.25) scale(1.02 1)">54559B</text>
<text transform="translate(26.20 611.25) scale(1.02 1)">55513A</text>
<text transform="translate(23.70 639.75) scale(1.02 1)">55514A</text>
<text transform="translate(31.20 679.25) scale(1.02 1)">54849</text>
<text transform="translate(265.70 443.25) scale(1.02 1)">55110B</text>
<text transform="translate(265.70 457.75) scale(1.02 1)">55220G</text>
<text transform="translate(396.90 755.15) scale(1.02 1)">55513A</text>
<text transform="translate(396.90 781.75) scale(1.02 1)">55514A</text>
<text transform="translate(483.50 780.25) scale(1.02 1)">55510A</text>
<text transform="translate(393.20 811.75) scale(1.02 1)">54849</text>
</g>
<!--HIGHLIGHT-->
<rect x="330" y="80" width="72" height="28.700" fill="#ff0000" fill-opacity="0.5"/>
</svg>
</body></html>
